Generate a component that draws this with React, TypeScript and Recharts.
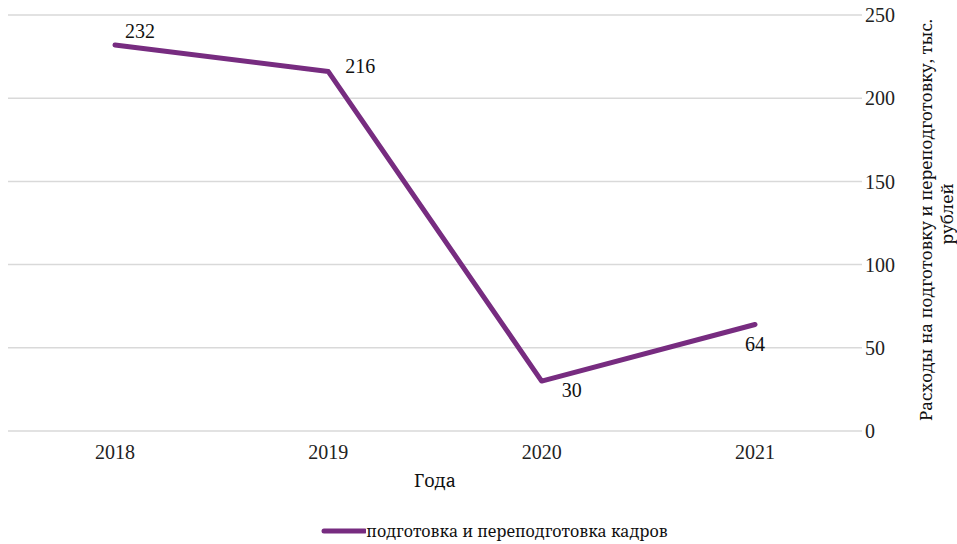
import React from 'react';
import { LineChart, Line, XAxis, YAxis, CartesianGrid, Legend, LabelList } from 'recharts';

const years = ['2018', '2019', '2020', '2021'];
const spending = [232, 216, 30, 64];
const yTicks = [0, 50, 100, 150, 200, 250];
const seriesName = 'подготовка и переподготовка кадров';
const yTitle = ['Расходы на подготовку и переподготовку, тыс.', 'рублей'];
const xTitle = 'Года';

const data = years.map((year, i) => ({ year, value: spending[i] }));

// where each value label sits relative to its point
const labelShift = [
  { dx: 25, dy: -14 },
  { dx: 32, dy: -6 },
  { dx: 30, dy: 9 },
  { dx: 0, dy: 19 },
];

const FONT = 'Liberation Serif, serif';
// Cyrillic comes out without serifs in Liberation Serif here, so use Noto Serif
const CYR_FONT = 'Noto Serif, serif';
const PURPLE = '#772C80';

const ValueLabel = (props: any) => {
  const { x, y, value, index } = props;
  const s = labelShift[index] || { dx: 0, dy: 0 };
  return (
    <text
      x={x + s.dx}
      y={y + s.dy}
      textAnchor="middle"
      dominantBaseline="central"
      fontFamily={FONT}
      fontSize={20}
      fill="#111"
    >
      {value}
    </text>
  );
};

const YTitle = (props: any) => {
  const { viewBox } = props;
  const cy = viewBox.y + viewBox.height / 2 - 3;
  const x1 = viewBox.x + 63;
  const x2 = viewBox.x + 84;
  return (
    <g fontFamily={CYR_FONT} fontSize={17} fill="#111">
      <text x={x1} y={cy} textAnchor="middle" dominantBaseline="central" transform={`rotate(-90 ${x1} ${cy})`}>
        {yTitle[0]}
      </text>
      <text x={x2} y={cy - 6} textAnchor="middle" dominantBaseline="central" transform={`rotate(-90 ${x2} ${cy - 6})`}>
        {yTitle[1]}
      </text>
    </g>
  );
};

const LegendContent = () => (
  <div style={{ display: 'flex', justifyContent: 'center', alignItems: 'center', paddingLeft: 24, paddingTop: 6, fontFamily: CYR_FONT, fontSize: 16, color: '#111' }}>
    <svg width={45} height={10}>
      <line x1={3} y1={5} x2={44} y2={5} stroke={PURPLE} strokeWidth={5} strokeLinecap="round" />
    </svg>
    <span>{seriesName}</span>
  </div>
);

export default function App() {
  return (
    <div>
      <style>{'body { margin: 0; }'}</style>
      <LineChart width={957} height={544} data={data} margin={{ top: 15, right: 0, left: 8, bottom: 0 }}>
        <CartesianGrid vertical={false} stroke="#d9d9d9" strokeWidth={1.5} />
        <XAxis
          dataKey="year"
          padding={{ left: 107, right: 107 }}
          axisLine={false}
          tickLine={false}
          tickSize={0}
          tickMargin={14}
          height={83}
          tick={{ fontFamily: FONT, fontSize: 20, fill: '#222' }}
          label={{ value: xTitle, position: 'insideBottom', offset: 27, fontFamily: CYR_FONT, fontSize: 18, fill: '#111' }}
        />
        <YAxis
          orientation="right"
          domain={[0, 250]}
          ticks={yTicks}
          axisLine={false}
          tickLine={false}
          tickSize={0}
          tickMargin={3}
          width={95}
          tick={{ fontFamily: FONT, fontSize: 20, fill: '#222', textAnchor: 'start' }}
          label={<YTitle />}
        />
        <Legend verticalAlign="bottom" height={30} content={<LegendContent />} />
        <Line
          type="linear"
          dataKey="value"
          name={seriesName}
          stroke={PURPLE}
          strokeWidth={5}
          strokeLinecap="round"
          strokeLinejoin="round"
          dot={false}
          activeDot={false}
          isAnimationActive={false}
        >
          <LabelList dataKey="value" content={<ValueLabel />} />
        </Line>
      </LineChart>
    </div>
  );
}
